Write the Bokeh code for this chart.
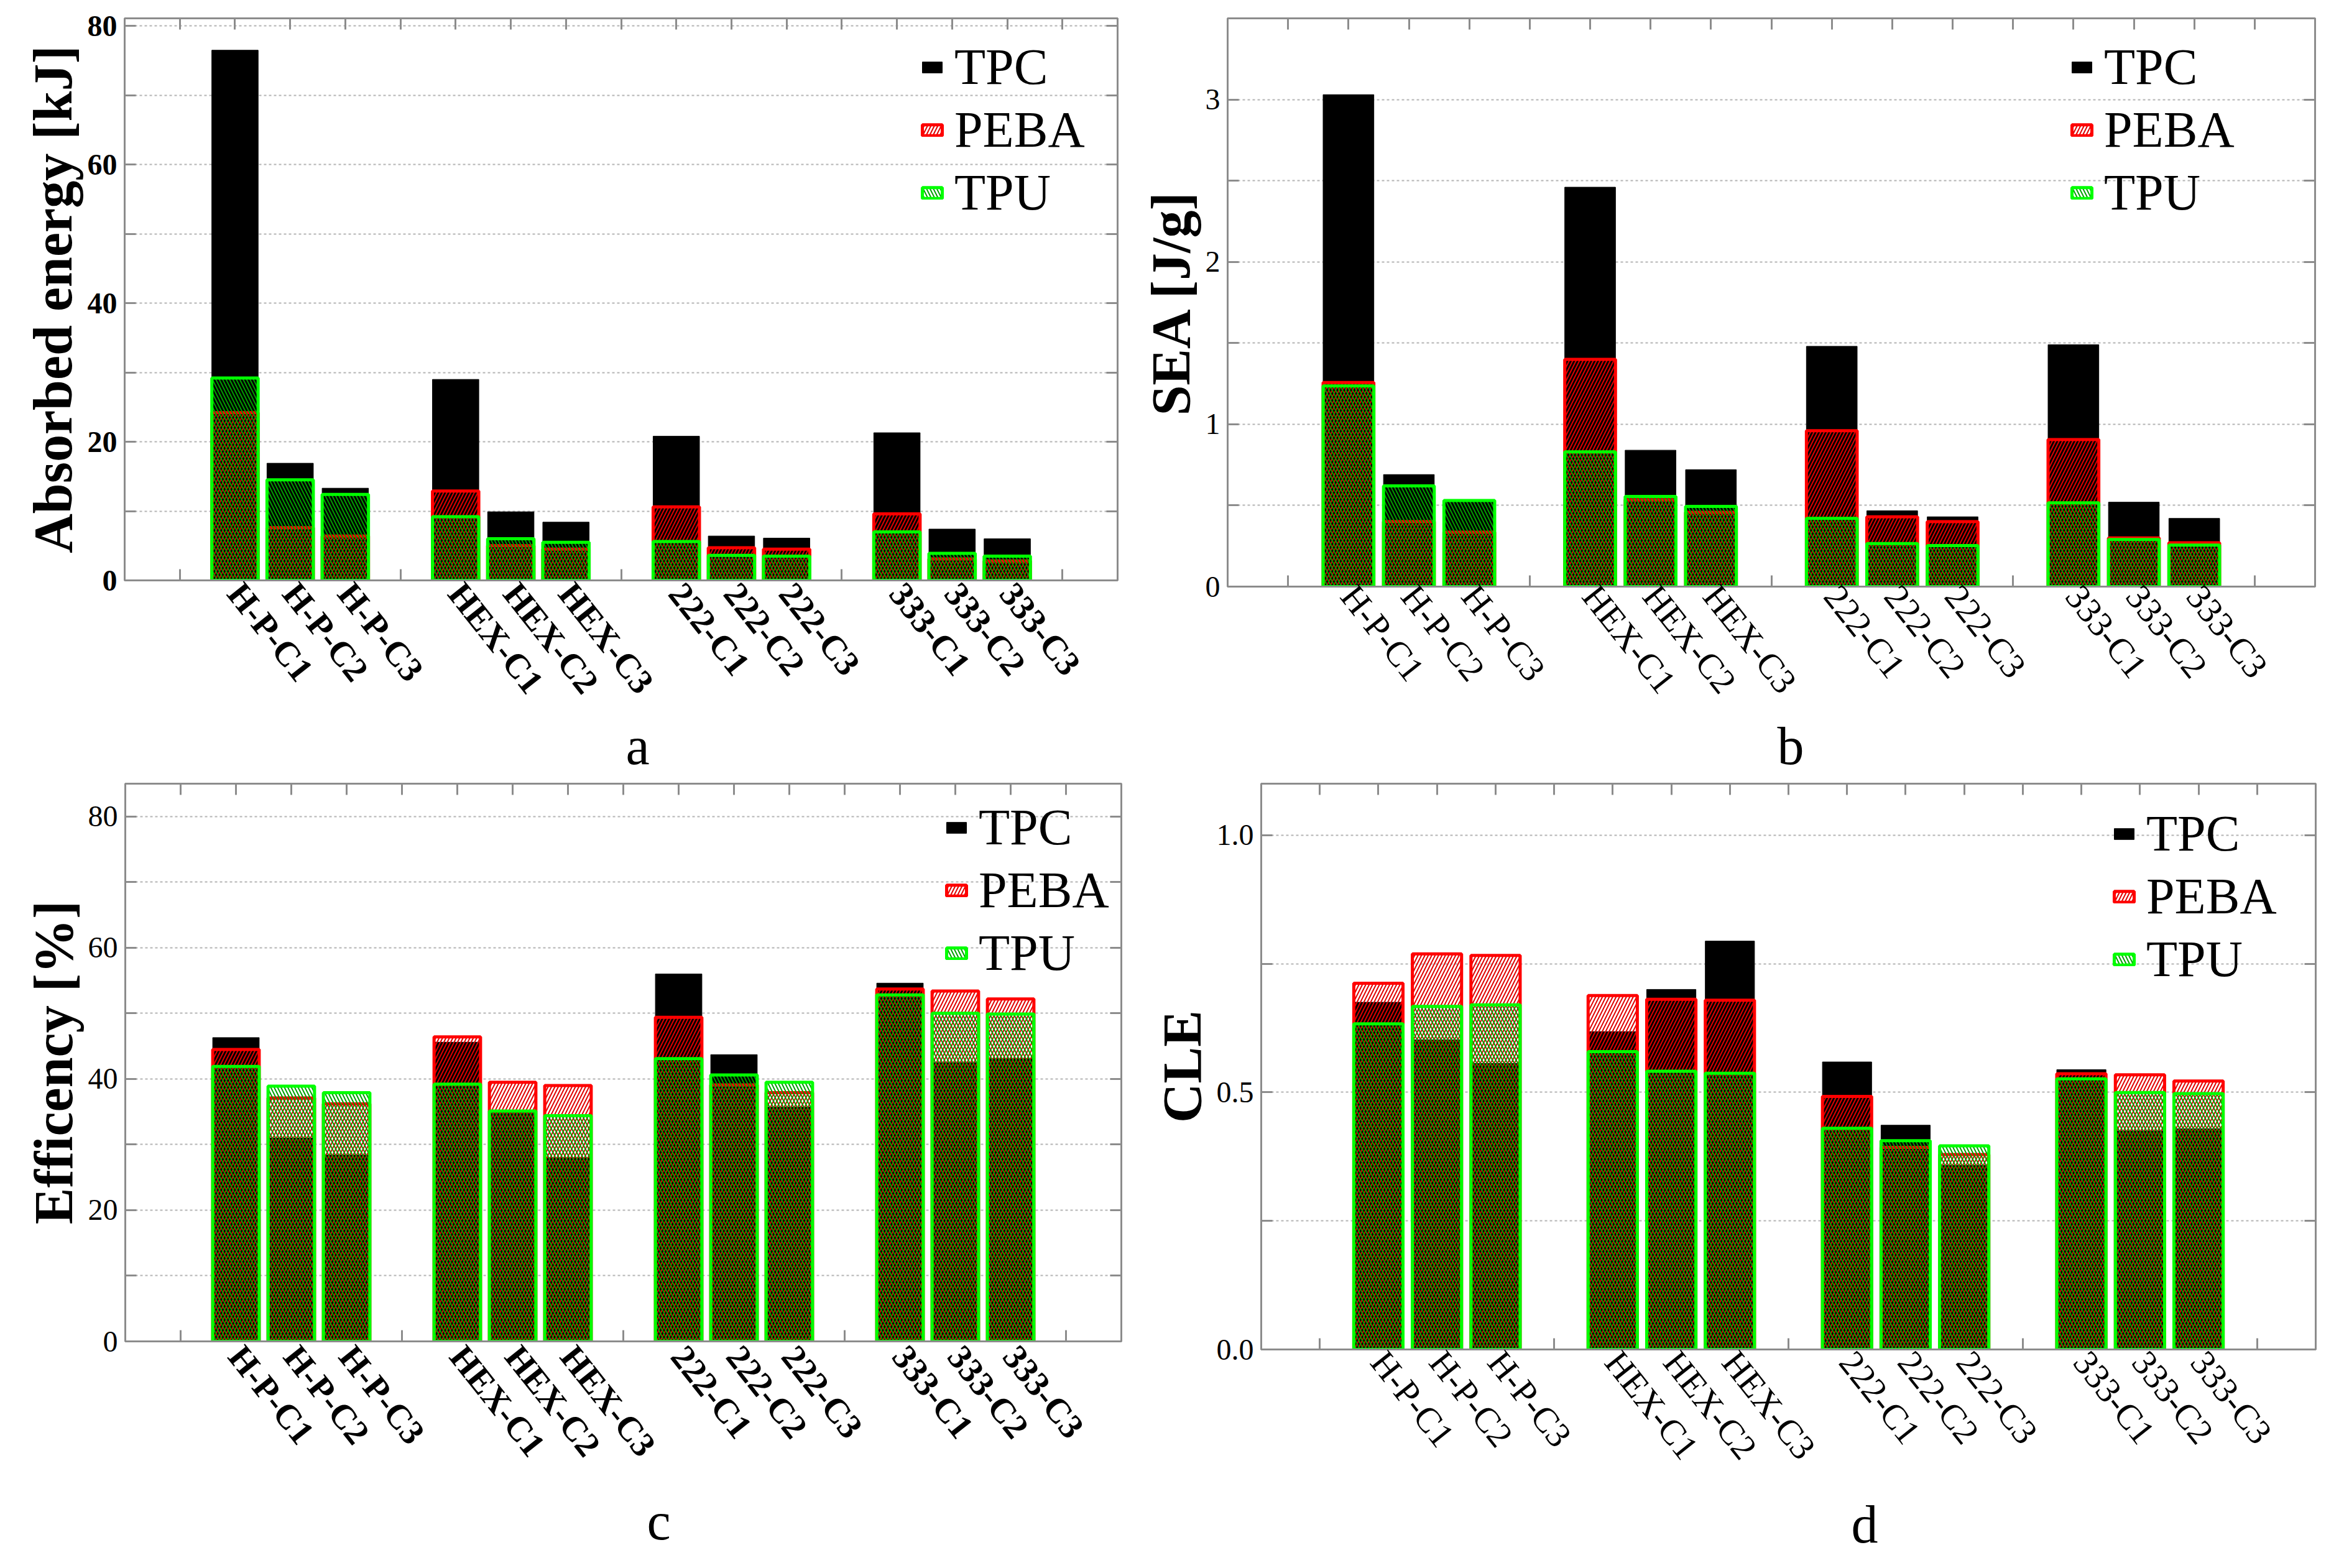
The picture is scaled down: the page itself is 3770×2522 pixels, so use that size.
from bokeh.plotting import figure
from bokeh.layouts import column, row
from bokeh.models import (ColumnDataSource, FixedTicker, LinearAxis, Range1d,
                          Legend, Title, PrintfTickFormatter)
from bokeh.embed import file_html
from bokeh.resources import INLINE

# --- data
labels = ["H-P-C1", "H-P-C2", "H-P-C3", "HEX-C1", "HEX-C2", "HEX-C3",
          "222-C1", "222-C2", "222-C3", "333-C1", "333-C2", "333-C3"]
series = ["TPC", "PEBA", "TPU"]

energy_tpc = [76.5, 16.9, 13.3, 29.0, 9.9, 8.4, 20.8, 6.4, 6.1, 21.3, 7.4, 6.0]
energy_peba = [24.2, 7.6, 6.4, 12.9, 5.0, 4.5, 10.6, 4.7, 4.5, 9.6, 3.1, 2.8]
energy_tpu = [29.2, 14.5, 12.4, 9.2, 6.0, 5.5, 5.6, 3.6, 3.5, 7.0, 3.9, 3.5]

sea_tpc = [3.03, 0.69, 0.535, 2.46, 0.84, 0.72, 1.48, 0.467, 0.43, 1.49, 0.52, 0.42]
sea_peba = [1.257, 0.40, 0.335, 1.40, 0.535, 0.458, 0.96, 0.43, 0.40, 0.906, 0.30, 0.27]
sea_tpu = [1.236, 0.62, 0.53, 0.83, 0.555, 0.494, 0.42, 0.265, 0.253, 0.516, 0.29, 0.256]

eff_tpc = [46.3, 31.0, 28.4, 45.6, 34.9, 28.0, 56.0, 43.7, 35.7, 54.6, 42.5, 43.1]
eff_peba = [44.5, 37.1, 36.2, 46.4, 39.5, 39.0, 49.4, 39.1, 37.9, 53.7, 53.4, 52.2]
eff_tpu = [41.9, 38.9, 37.9, 39.2, 35.1, 34.4, 43.1, 40.6, 39.5, 52.8, 50.0, 49.9]

cle_tpc = [0.675, 0.602, 0.556, 0.618, 0.700, 0.794, 0.559, 0.436, 0.358, 0.544, 0.425, 0.429]
cle_peba = [0.712, 0.769, 0.766, 0.688, 0.681, 0.679, 0.492, 0.393, 0.379, 0.536, 0.534, 0.522]
cle_tpu = [0.633, 0.667, 0.670, 0.579, 0.541, 0.537, 0.430, 0.406, 0.396, 0.526, 0.4995, 0.4975]

# 4 groups of 3, one empty slot between groups
xpos = [4 * (i // 3) + i % 3 + 2 for i in range(len(labels))]
gap_pos = [1, 5, 9, 13, 17]

SERIF = "Liberation Serif"
GREY = "#8c8c8c"
RED = "#ff0000"
LIME = "#00ff00"
HATCH_RED = "#e00000"
HATCH_GREEN = "#00a000"


def style_axis(ax, tick=18):
    ax.axis_line_color = GREY
    ax.axis_line_width = 3
    ax.major_tick_line_color = GREY
    ax.major_tick_line_width = 3
    ax.minor_tick_line_color = GREY
    ax.minor_tick_line_width = 3
    ax.major_tick_in = tick
    ax.major_tick_out = 0
    ax.minor_tick_in = tick
    ax.minor_tick_out = 0


def hide_labels(ax):
    ax.major_label_text_font_size = "1px"
    ax.major_label_text_alpha = 0
    ax.major_label_standoff = 0


def panel(tpc, peba, tpu, ymax, ymajor, yminor, ylabel, letter, borders,
          fsize, legend_xy, letter_offset, letter_standoff,
          bold_ticks=False, bold_cats=False, fmt=None, cat_size=57,
          cat_standoff=14):
    fw, fh = fsize
    bl, br, bt, bb = borders
    p = figure(frame_width=fw, frame_height=fh, x_range=Range1d(0, 18),
               y_range=Range1d(0, ymax), output_backend="svg",
               toolbar_location=None, title=None,
               min_border_left=bl, min_border_right=br,
               min_border_top=bt, min_border_bottom=bb,
               border_fill_color="white", background_fill_color="white")
    p.outline_line_color = GREY
    p.outline_line_width = 3

    src = ColumnDataSource(dict(x=xpos, tpc=tpc, peba=peba, tpu=tpu))
    r_tpc = p.vbar(x="x", top="tpc", width=0.84, source=src,
                   fill_color="black", line_color="black", line_width=1)
    r_peba = p.vbar(x="x", top="peba", width=0.84, source=src,
                    fill_color=None, line_color=RED, line_width=5,
                    hatch_pattern="/", hatch_color=HATCH_RED,
                    hatch_weight=2, hatch_scale=11)
    r_tpu = p.vbar(x="x", top="tpu", width=0.84, source=src,
                   fill_color=None, line_color=LIME, line_width=5,
                   hatch_pattern="\\", hatch_color=HATCH_GREEN,
                   hatch_weight=2, hatch_scale=11)

    # y axis (left) + grid
    yt = FixedTicker(ticks=ymajor, minor_ticks=yminor)
    ya = p.yaxis[0]
    ya.ticker = yt
    style_axis(ya)
    ya.major_label_text_font = SERIF
    ya.major_label_text_font_size = "48px"
    ya.major_label_text_font_style = "bold" if bold_ticks else "normal"
    ya.major_label_text_color = "black"
    ya.major_label_standoff = 12
    ya.axis_label = ylabel
    ya.axis_label_text_font = SERIF
    ya.axis_label_text_font_size = "88px"
    ya.axis_label_text_font_style = "bold"
    ya.axis_label_text_color = "black"
    ya.axis_label_standoff = 4
    if fmt:
        ya.formatter = PrintfTickFormatter(format=fmt)

    p.ygrid.ticker = yt
    for attr in ("grid", "minor_grid"):
        setattr(p.ygrid[0], attr + "_line_color", "#b4b4b4")
        setattr(p.ygrid[0], attr + "_line_width", 2)
        setattr(p.ygrid[0], attr + "_line_dash", "4 4")
    p.xgrid.visible = False

    # x axis (bottom): labels at bars, ticks only in the gaps
    xa = p.xaxis[0]
    xa.ticker = FixedTicker(ticks=xpos, minor_ticks=gap_pos)
    style_axis(xa)
    xa.major_tick_in = 0
    xa.major_label_overrides = {x: lab for x, lab in zip(xpos, labels)}
    xa.major_label_orientation = -0.9
    xa.major_label_text_font = SERIF
    xa.major_label_text_font_size = f"{cat_size}px"
    xa.major_label_text_font_style = "bold" if bold_cats else "normal"
    xa.major_label_text_color = "black"
    xa.major_label_standoff = cat_standoff

    # mirrored axes top / right
    top = LinearAxis(ticker=FixedTicker(ticks=list(range(1, 18))))
    style_axis(top)
    hide_labels(top)
    p.add_layout(top, "above")
    right = LinearAxis(ticker=FixedTicker(ticks=ymajor, minor_ticks=yminor))
    style_axis(right)
    hide_labels(right)
    p.add_layout(right, "right")

    leg = Legend(items=[(s, [r]) for s, r in zip(series, [r_tpc, r_peba, r_tpu])],
                 location=legend_xy, padding=0, margin=0, spacing=5,
                 glyph_width=40, glyph_height=22, label_standoff=16,
                 label_height=96, label_text_font=SERIF,
                 label_text_font_size="82px", label_text_color="black",
                 background_fill_alpha=0, border_line_alpha=0)
    p.add_layout(leg)

    p.add_layout(Title(text=letter, align="left", offset=letter_offset,
                       standoff=letter_standoff, text_font=SERIF,
                       text_font_size="86px", text_font_style="normal",
                       text_color="black"), "below")
    return p


# plots in one row share their top and bottom borders
pa = panel(energy_tpc, energy_peba, energy_tpu, 81.1, [0, 20, 40, 60, 80],
           [10, 30, 50, 70], "Absorbed energy [kJ]", "a",
           (200, 34, 29, 305), (1597, 904), (1279, 575), 806, 0,
           bold_ticks=True, bold_cats=True, cat_size=56, cat_standoff=11)
pb = panel(sea_tpc, sea_peba, sea_tpu, 3.5, [0, 1, 2, 3],
           [0.5, 1.5, 2.5, 3.5], "SEA [J/g]", "b",
           (143, 30, 29, 305), (1749, 914), (1354, 585), 884, 0,
           cat_standoff=5)
pc = panel(eff_tpc, eff_peba, eff_tpu, 85, [0, 20, 40, 60, 80],
           [10, 30, 50, 70], "Efficency [%]", "c",
           (201, 46, 12, 340), (1602, 897), (1317, 576), 839, 40,
           bold_cats=True, cat_size=56)
pd_ = panel(cle_tpc, cle_peba, cle_tpu, 1.1, [0, 0.5, 1.0],
            [0.25, 0.75], "CLE", "d",
            (175, 30, 12, 340), (1696, 910), (1368, 579), 949, 40,
            fmt="%.1f", cat_standoff=10)

layout = column(row(pa, pb), row(pc, pd_))
open("out.html", "w").write(file_html(layout, INLINE))
